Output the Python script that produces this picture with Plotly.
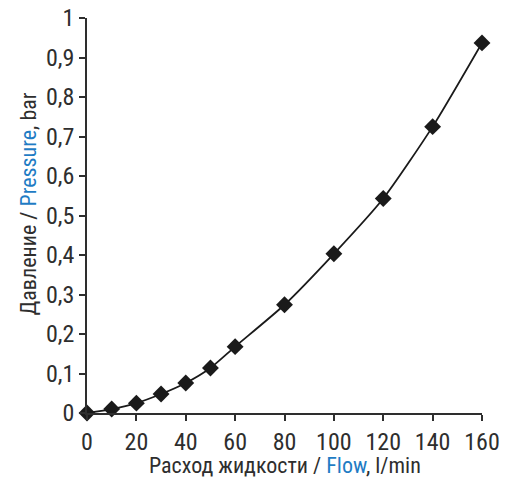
import plotly.graph_objects as go

# Flow rate (l/min) and pressure drop (bar)
flow = [0, 10, 20, 30, 40, 50, 60, 80, 100, 120, 140, 160]
pressure = [0.0, 0.01, 0.025, 0.048, 0.076, 0.114, 0.168, 0.274, 0.403, 0.543, 0.725, 0.937]

x_ticks = [0, 20, 40, 60, 80, 100, 120, 140, 160]
y_ticks = [0, 0.1, 0.2, 0.3, 0.4, 0.5, 0.6, 0.7, 0.8, 0.9, 1]
y_tick_text = ["0", "0,1", "0,2", "0,3", "0,4", "0,5", "0,6", "0,7", "0,8", "0,9", "1"]

x_title = "Расход жидкости / <span style='color:#1f7cc4'>Flow</span>, l/min"
y_title = "Давление / <span style='color:#1f7cc4'>Pressure</span>, bar"

FONT = "Liberation Sans Narrow, Roboto Condensed, Arial Narrow, sans-serif"
INK = "#2e2e2e"

fig = go.Figure()
fig.add_trace(go.Scatter(
    x=flow, y=pressure,
    mode="lines+markers",
    line=dict(color="#1a1a1a", width=1.8, shape="spline", smoothing=0.6),
    marker=dict(symbol="diamond", size=13, color="#1a1a1a"),
    cliponaxis=False,
    showlegend=False,
))

axis_style = dict(
    automargin=False,
    showline=True, linecolor=INK, linewidth=1.5,
    ticks="outside", ticklen=6, tickwidth=1.5, tickcolor=INK,
    showgrid=False, zeroline=False,
    tickfont=dict(size=24, family=FONT, color=INK),
)

fig.update_layout(
    width=509, height=477,
    margin=dict(l=87, r=27, t=18, b=64),
    paper_bgcolor="white", plot_bgcolor="white",
    font=dict(family=FONT, color=INK, size=22),
    xaxis=dict(range=[0, 160], tickvals=x_ticks, **axis_style),
    yaxis=dict(range=[0, 1], tickvals=y_ticks, ticktext=y_tick_text, **axis_style),
    annotations=[
        # axis titles placed as annotations for exact spacing
        dict(text=x_title, xref="paper", yref="paper", x=0.5, y=-0.132,
             xanchor="center", yanchor="middle", showarrow=False,
             font=dict(size=22, family=FONT, color=INK)),
        dict(text=y_title, xref="paper", yref="paper", x=-0.149, y=0.529,
             xanchor="center", yanchor="middle", showarrow=False, textangle=-90,
             font=dict(size=22, family=FONT, color=INK)),
    ],
)

fig.write_html("out.html")
